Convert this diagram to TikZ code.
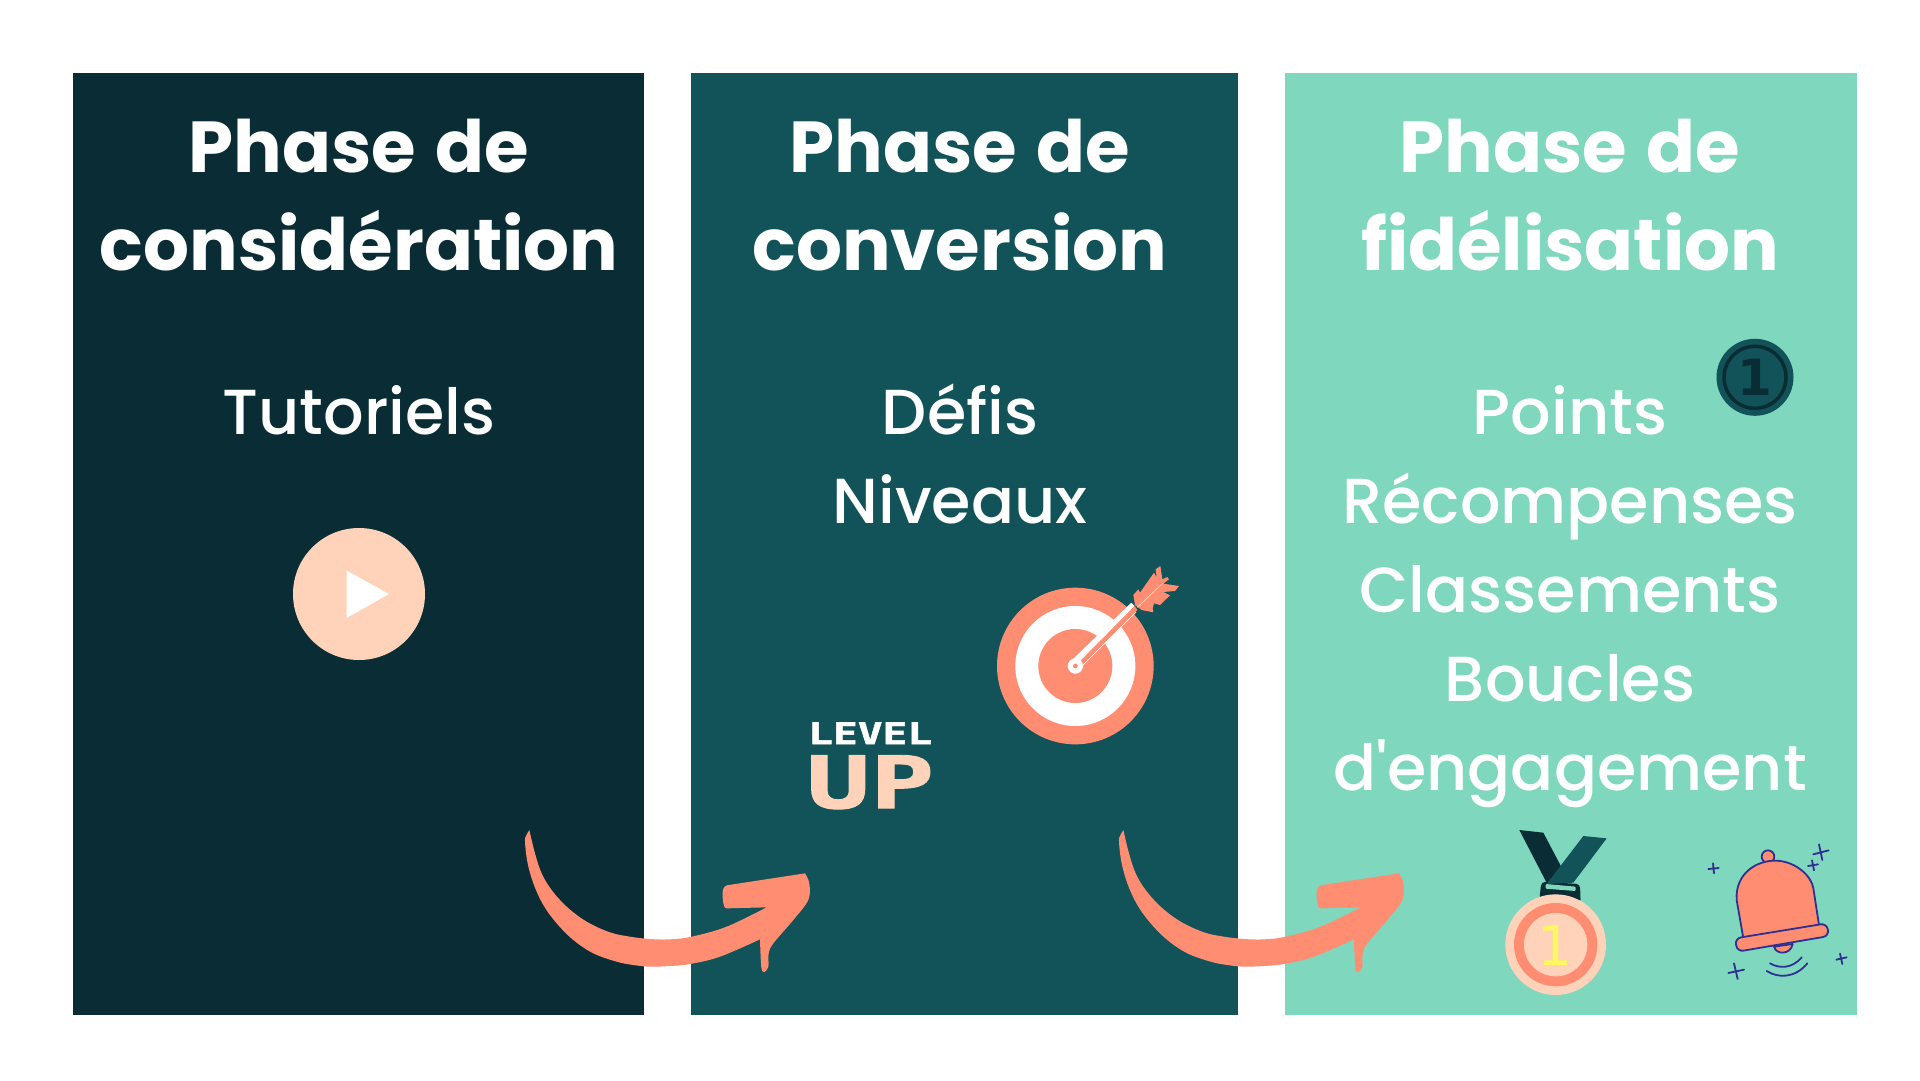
\documentclass[tikz,border=0pt]{standalone}
\usepackage{fontspec}
\usepackage{graphicx}
\setmainfont{Poppins}
\newfontfamily\pmed{Poppins Medium}
\newfontfamily\djv{DejaVu Sans}
\newfontfamily\djm{DejaVu Sans Mono}[FakeBold=1.2]
\definecolor{cdark}{HTML}{0A2D35}
\definecolor{cteal}{HTML}{115358}
\definecolor{cmint}{HTML}{7FD7BD}
\definecolor{ccoral}{HTML}{FF8D72}
\definecolor{cpeach}{HTML}{FFD3BA}
\definecolor{cyel}{HTML}{FFF95B}
\definecolor{cink}{HTML}{2E3192}
\newcommand{\swoosh}{
  \fill[ccoral] plot[smooth,tension=.6] coordinates {(88,60) (105,130) (125,190) (155,240) (200,290) (260,335) (330,367) (390,380) (450,387) (510,388) (575,380) (680,350) (800,292)}
  -- (680,295) .. controls (672,295) and (670,285) .. (668,262) .. controls (666,240) and (670,230) .. (680,226) -- (915,190)
  -- plot[smooth,tension=.55] coordinates {(915,190) (928,220) (925,270) (880,330) (820,400) (806,430) (805,470) (793,486) (784,472) (780,388)}
  -- plot[smooth,tension=.6] coordinates {(780,388) (660,440) (570,462) (510,468) (450,470) (400,465) (350,455) (280,430) (220,390) (170,340) (130,285) (100,220) (82,155) (75,95) (78,78) (88,60)} -- cycle;
}
\tikzset{
  title/.style={anchor=base,text=white,inner sep=0pt,font=\fontsize{72.2}{72}\selectfont\bfseries},
  body/.style={anchor=base,text=white,inner sep=0pt,font=\fontsize{63.6}{62}\selectfont\pmed},
  bellink/.style={draw=cink,line width=1.8pt,line cap=round,line join=round},
  zoomA/.style={shift={(#1)},x=0.33333pt,y=-0.33333pt}
}
\begin{document}
\begin{tikzpicture}[x=1pt,y=-1pt]
\useasboundingbox (0,0) rectangle (1920,1080);
\fill[white] (0,0) rectangle (1920,1080);
% panels
\fill[cdark] (73,73) rectangle (644,1015);
\fill[cteal] (691,73) rectangle (1238,1015);
\fill[cmint] (1285,73) rectangle (1857,1015);
% titles
\node[title] (t1a) at (359,172) {Phase\hspace{4pt} de};
\node[title] (t1b) at (359,270) {considération};
\node[title] (t2a) at (960,172) {Phase\hspace{4pt} de};
\node[title] (t2b) at (960,270) {conversion};
\node[title] (t3a) at (1570,172) {Phase\hspace{4pt} de};
\node[title] (t3b) at (1570,270) {fidélisation};
% bodies
\node[body] (b1) at (359,434.5) {Tutoriels};
\node[body] (b2a) at (960,434.5) {Défis};
\node[body] (b2b) at (960,523.5) {Niveaux};
\node[body] (b3a) at (1570,434.5) {Points};
\node[body] (b3b) at (1570,523.5) {Récompenses};
\node[body] (b3c) at (1570,612.5) {Classements};
\node[body] (b3d) at (1570,701.5) {Boucles};
\node[body] (b3e) at (1570,790.5) {d'engagement};
% play icon
\fill[cpeach] (359,594) circle[radius=66];
\fill[white] (346.5,570.6) -- (389,594) -- (346.5,618) -- cycle;
% target
\begin{scope}[zoomA={960,540}]
\fill[ccoral] (346,378) circle[radius=235];
\fill[white] (346,378) circle[radius=180];
\fill[ccoral] (346,378) circle[radius=111];
\fill[ccoral] (520,165) -- (535,148) -- (540,158) -- (582,98) -- (590,112) -- (587,88) -- (601,78) -- (607,118) -- (622,111) -- (627,118) -- (610,131) -- (657,138) -- (645,153) -- (610,156) -- (630,166) -- (600,195) -- (582,190) -- (578,206) -- (580,217) -- (545,210) -- (525,195) -- cycle;
\end{scope}
\begin{scope}[zoomA={1060,560}]
\fill[white] (36,300) -- (214,128) -- (224,138) -- (52,312) -- cycle;
\fill[ccoral] (50,314) -- (224,138) -- (232,150) -- (60,324) -- cycle;
\draw[white,line width=.7pt] (62,322) -- (228,156);
\draw[cpeach,line width=.7pt] (232,142) -- (308,70);
\fill[white] (46,318) circle[radius=23];
\fill[ccoral] (46,318) circle[radius=7];
\end{scope}
% level up
\node[inner sep=0pt,anchor=north west,text=white] (lvl) at (808,722) {\resizebox{124pt}{22pt}{\djm\bfseries LEVEL}};
\node[inner sep=0pt,anchor=north west,text=cpeach] (upx) at (806,755) {\resizebox{128pt}{53pt}{\djm\bfseries UP}};
% coin
\fill[cteal] (1755,377.3) circle[radius=38.5];
\draw[cdark,line width=3.5pt] (1755,377.3) circle[radius=31];
\node[inner sep=0pt,text=cdark,font=\fontsize{50}{50}\selectfont\djv\bfseries] (coin) at (1755,377) {1};
% medal
\begin{scope}[zoomA={1480,810}]
\fill[cdark] (118,60) -- (190,68) -- (262,205) -- (205,228) -- cycle;
\fill[cdark,rounded corners=4pt] (184,215) -- (300,222) -- (302,280) -- (178,270) -- cycle;
\fill[cteal] (310,78) -- (380,85) -- (280,218) -- (200,222) -- cycle;
\fill[cmint,rounded corners=1pt] (197,222) -- (287,230) -- (287,243) -- (197,236) -- cycle;
\fill[cpeach] (227,404) circle[radius=151];
\fill[ccoral] (227,404) circle[radius=125];
\fill[cpeach] (227,404) circle[radius=95];
\node[inner sep=0pt,text=cyel,font=\fontsize{55}{55}\selectfont\djv] (medal) at (226,405) {1};
% bell
\draw[bellink,fill=ccoral] (864,140) circle[radius=19];
\draw[bellink,fill=ccoral] (790,385) -- (770,270) .. controls (765,190) and (830,150) .. (890,152) .. controls (950,155) and (995,200) .. (1000,235) -- (1017,345) -- cycle;
\draw[bellink,fill=ccoral] (882,410) .. controls (888,435) and (932,435) .. (938,402) -- cycle;
\draw[bellink,fill=ccoral,rounded corners=6pt] (765,385) -- (1040,340) -- (1047,378) -- (772,425) -- cycle;
\draw[bellink] (870,460) .. controls (895,475) and (935,478) .. (965,442);
\draw[bellink] (860,483) .. controls (895,505) and (945,505) .. (982,460);
\draw[bellink] (685,177) -- (716,174) (699,160) -- (702,190);
\draw[bellink] (1000,133) -- (1046,121) (1017,103) -- (1027,150);
\draw[bellink] (984,168) -- (1014,163) (996,151) -- (1002,181);
\draw[bellink] (745,489) -- (792,479) (762,460) -- (773,507);
\draw[bellink] (1069,449) -- (1100,442) (1080,431) -- (1087,462);
\end{scope}
% swooshes
\begin{scope}[zoomA={500,810}]\swoosh\end{scope}
\begin{scope}[zoomA={1094,810}]\swoosh\end{scope}
\end{tikzpicture}
\end{document}
